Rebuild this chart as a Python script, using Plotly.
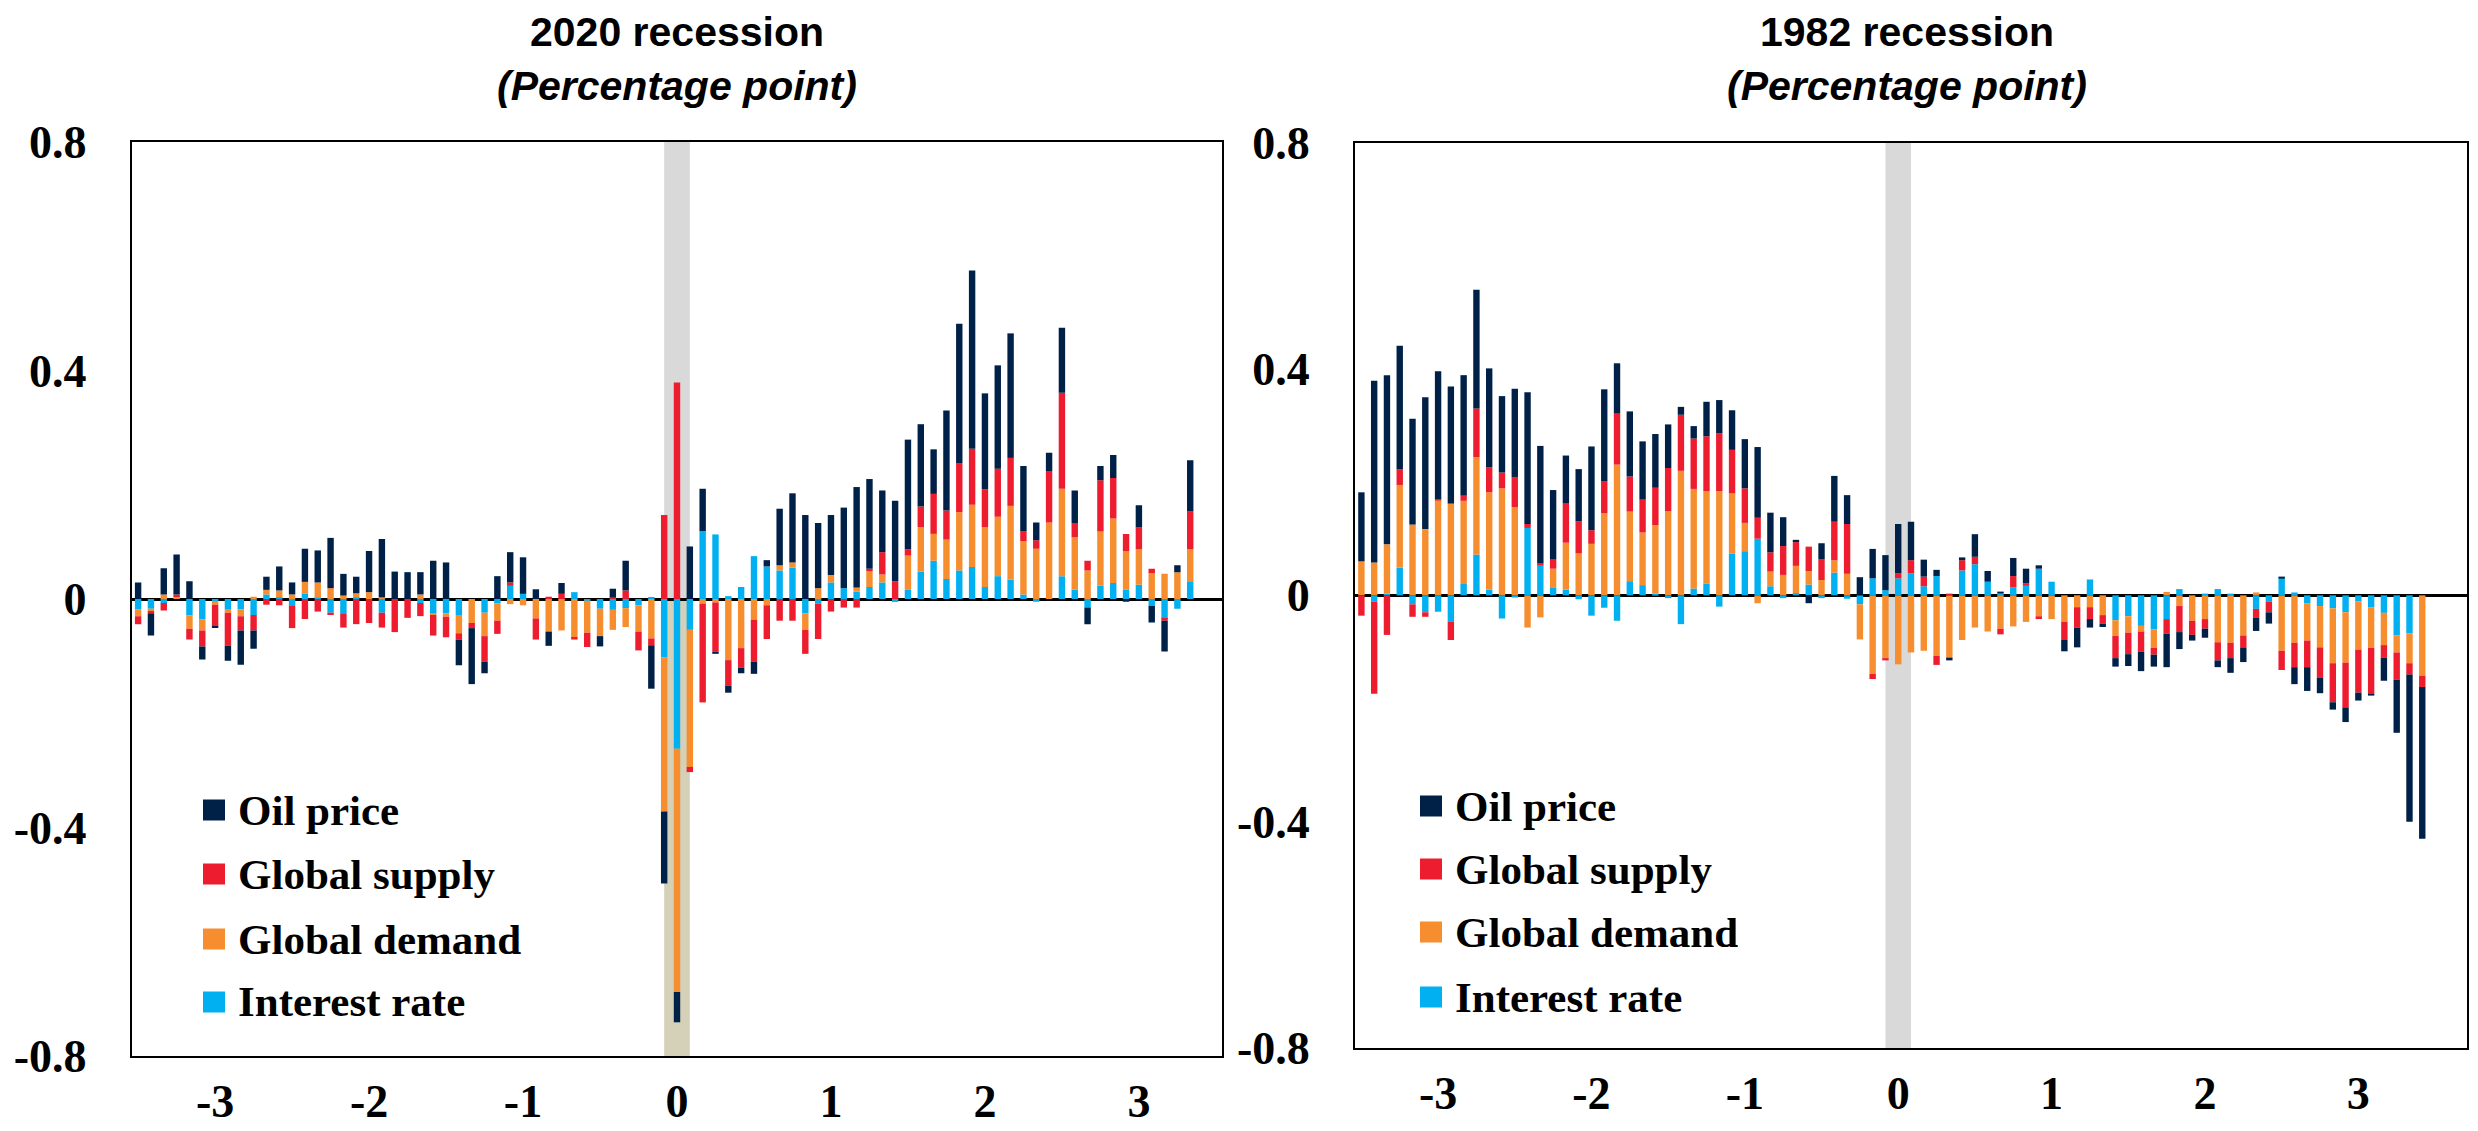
import plotly.graph_objects as go

# target picture size; the page body adds an 8 px margin before the figure
W, H = 2478, 1131
PAGE_MARGIN = 8
FW, FH = W - PAGE_MARGIN, H - PAGE_MARGIN

# months relative to the start of each recession
MONTHS_2020 = list(range(-42, 41))
MONTHS_1982 = list(range(-42, 42))

# 2020 recession contributions (percentage point)
IR_2020 = [-0.018, -0.017, -0.007, 0.0, -0.029, -0.036, -0.005, -0.019, -0.018, -0.028,
           0.008, 0.003, -0.011, 0.009, 0.002, -0.024, -0.025, 0.003, 0.0, -0.024,
           0.0, 0.0, -0.007, -0.025, -0.025, -0.028, 0.0, -0.024, -0.008, 0.023,
           0.009, 0.0, 0.0, 0.0, 0.012, -0.003, -0.017, -0.019, -0.016, -0.011,
           0.003, -0.102, -0.262, -0.054, 0.119, 0.113, 0.005, 0.021, 0.075, 0.057,
           0.050, 0.055, -0.025, -0.008, 0.029, 0.019, 0.013, 0.021, 0.029, -0.005,
           0.016, 0.048, 0.067, 0.035, 0.050, 0.056, 0.021, 0.040, 0.034, 0.008,
           -0.005, 0.0, 0.040, 0.016, -0.015, 0.023, 0.028, 0.016, 0.025, -0.012,
           -0.035, -0.017, 0.031]
GD_2020 = [-0.012, -0.004, 0.008, 0.005, -0.023, -0.019, -0.005, -0.005, -0.012, 0.004,
           0.008, 0.012, 0.008, 0.021, 0.027, 0.019, 0.006, 0.007, 0.012, 0.003,
           0.0, 0.0, 0.008, -0.003, -0.006, -0.032, -0.042, -0.041, -0.030, -0.009,
           -0.011, -0.034, -0.057, -0.055, -0.068, -0.056, -0.048, -0.035, -0.033, -0.046,
           -0.069, -0.270, -0.426, -0.240, -0.008, -0.006, -0.107, -0.086, -0.036, -0.011,
           0.009, 0.009, -0.029, 0.019, 0.013, 0.0, 0.007, 0.029, 0.014, 0.0,
           0.060, 0.078, 0.047, 0.069, 0.102, 0.109, 0.105, 0.104, 0.129, 0.093,
           0.088, 0.134, 0.153, 0.092, 0.050, 0.095, 0.113, 0.068, 0.062, 0.045,
           0.044, 0.047, 0.056]
GS_2020 = [-0.014, -0.004, -0.013, 0.003, -0.019, -0.028, -0.038, -0.058, -0.025, -0.027,
           -0.010, -0.011, -0.040, -0.035, -0.022, -0.004, -0.025, -0.044, -0.042, -0.026,
           -0.058, -0.033, -0.023, -0.036, -0.036, -0.011, -0.009, -0.045, -0.023, 0.006,
           0.0, -0.037, 0.004, 0.009, -0.003, -0.025, 0.0, 0.003, 0.015, -0.033,
           -0.012, 0.147, 0.379, -0.009, -0.173, -0.086, -0.045, -0.034, -0.074, -0.059,
           -0.038, -0.038, -0.042, -0.062, -0.022, -0.015, -0.015, 0.003, 0.039, 0.031,
           0.011, 0.036, 0.070, 0.051, 0.086, 0.098, 0.066, 0.084, 0.084, 0.017,
           0.015, 0.090, 0.168, 0.025, 0.017, 0.090, 0.071, 0.030, 0.038, 0.008,
           -0.003, 0.0, 0.066]
OIL_2020 = [0.029, -0.039, 0.046, 0.070, 0.031, -0.023, -0.002, -0.026, -0.060, -0.032,
            0.023, 0.042, 0.021, 0.058, 0.056, 0.088, 0.038, 0.029, 0.072, 0.102,
            0.048, 0.047, 0.039, 0.067, 0.064, -0.045, -0.098, -0.020, 0.040, 0.053,
            0.064, 0.017, -0.025, 0.019, 0.0, 0.0, -0.018, 0.015, 0.052, 0.0,
            -0.076, -0.126, -0.053, 0.092, 0.074, -0.004, -0.012, -0.010, -0.021, 0.011,
            0.099, 0.121, 0.147, 0.114, 0.105, 0.141, 0.176, 0.157, 0.108, 0.141,
            0.192, 0.144, 0.078, 0.175, 0.244, 0.312, 0.168, 0.181, 0.218, 0.115,
            0.031, 0.032, 0.114, 0.057, -0.029, 0.025, 0.040, -0.005, 0.039, -0.029,
            -0.054, 0.012, 0.090]

# 1982 recession contributions (percentage point)
IR_1982 = [0.0, -0.011, 0.003, 0.049, -0.016, -0.030, -0.029, -0.047, 0.020, 0.072,
           0.010, -0.041, -0.004, 0.119, 0.053, 0.013, 0.010, -0.007, -0.036, -0.022,
           -0.045, 0.025, 0.018, 0.003, -0.005, -0.051, 0.012, 0.021, -0.020, 0.074,
           0.078, 0.100, 0.016, -0.005, 0.004, 0.019, -0.005, 0.040, -0.006, -0.016,
           0.030, 0.009, 0.030, 0.039, 0.016, 0.034, 0.0, 0.044, 0.055, 0.024,
           0.003, 0.014, 0.018, 0.047, 0.024, 0.0, 0.0, 0.028, 0.0, -0.044,
           -0.037, -0.054, -0.060, -0.042, 0.011, 0.0, 0.003, 0.011, 0.003, 0.0,
           -0.024, -0.011, 0.031, 0.005, -0.014, -0.019, -0.023, -0.030, -0.011, -0.021,
           -0.031, -0.071, -0.067, 0.0]
GD_1982 = [0.060, 0.058, 0.087, 0.146, 0.125, 0.117, 0.168, 0.162, 0.147, 0.172,
           0.172, 0.189, 0.156, -0.057, -0.039, 0.034, 0.083, 0.074, 0.091, 0.145,
           0.231, 0.123, 0.093, 0.121, 0.149, 0.220, 0.176, 0.163, 0.184, 0.106,
           0.050, -0.014, 0.026, 0.036, 0.048, 0.024, 0.027, 0.022, 0.038, -0.062,
           -0.139, -0.111, -0.122, -0.101, -0.098, -0.107, -0.110, -0.079, -0.057, -0.064,
           -0.059, -0.055, -0.047, -0.037, -0.042, -0.047, -0.021, -0.021, -0.035, -0.028,
           -0.029, -0.010, -0.033, 0.006, -0.019, -0.045, -0.042, -0.083, -0.084, -0.071,
           0.005, 0.0, -0.098, -0.084, -0.066, -0.073, -0.097, -0.089, -0.085, -0.072,
           -0.057, -0.030, -0.053, -0.142]
GS_1982 = [-0.036, -0.163, -0.070, 0.028, -0.022, -0.008, 0.002, -0.032, 0.009, 0.086,
           0.044, 0.028, 0.053, 0.007, 0.003, 0.016, 0.069, 0.057, 0.024, 0.056,
           0.090, 0.062, 0.058, 0.066, 0.076, 0.099, 0.089, 0.097, 0.102, 0.077,
           0.061, 0.037, 0.034, 0.051, 0.042, 0.043, 0.037, 0.068, 0.088, 0.0,
           -0.009, -0.004, 0.009, 0.023, 0.017, -0.016, 0.002, 0.018, 0.013, 0.0,
           -0.010, 0.020, 0.003, -0.005, 0.0, -0.032, -0.036, -0.021, -0.015, -0.039,
           -0.038, -0.036, -0.012, -0.026, -0.046, -0.025, -0.017, -0.032, -0.027, -0.021,
           -0.016, -0.019, -0.034, -0.043, -0.047, -0.054, -0.069, -0.079, -0.076, -0.081,
           -0.022, -0.048, -0.020, -0.020]
OIL_1982 = [0.122, 0.321, 0.299, 0.218, 0.187, 0.233, 0.226, 0.207, 0.213, 0.210,
            0.175, 0.135, 0.156, 0.233, 0.208, 0.123, 0.085, 0.092, 0.148, 0.163,
            0.089, 0.115, 0.103, 0.095, 0.077, 0.014, 0.022, 0.061, 0.059, 0.070,
            0.087, 0.125, 0.070, 0.051, 0.004, -0.014, 0.028, 0.081, 0.051, 0.032,
            0.052, 0.062, 0.087, 0.068, 0.030, 0.011, -0.005, 0.005, 0.040, 0.019,
            0.003, 0.032, 0.026, 0.006, 0.0, -0.020, -0.035, -0.015, -0.006, -0.015,
            -0.021, -0.034, -0.021, -0.059, -0.030, -0.010, -0.016, -0.012, -0.026, -0.026,
            -0.023, -0.020, 0.002, -0.030, -0.042, -0.027, -0.013, -0.026, -0.014, -0.003,
            -0.041, -0.094, -0.260, -0.268]

SERIES = ["Oil price", "Global supply", "Global demand", "Interest rate"]
COLORS = {
    "Oil price": "#002147",
    "Global supply": "#ED1C2E",
    "Global demand": "#F68D2E",
    "Interest rate": "#00B0F0",
}
TICK_MONTHS = [-36, -24, -12, 0, 12, 24, 36]
TICK_TEXT = ["-3", "-2", "-1", "0", "1", "2", "3"]
Y_TICKS = [-0.8, -0.4, 0, 0.4, 0.8]
Y_TEXT = ["-0.8", "-0.4", "0", "0.4", "0.8"]
REC_BAND = (-1, 1)  # shaded recession months

SERIF = "Liberation Serif, Times New Roman, serif"
SANS = "Liberation Sans, Arial, sans-serif"


def px_x(x):
    # screen pixel -> paper fraction
    return (x - PAGE_MARGIN) / FW


def px_y(y):
    return 1 - (y - PAGE_MARGIN) / FH


fig = go.Figure()

panels = [
    ("x", "y", MONTHS_2020, {"Interest rate": IR_2020, "Global demand": GD_2020,
                             "Global supply": GS_2020, "Oil price": OIL_2020}),
    ("x2", "y2", MONTHS_1982, {"Interest rate": IR_1982, "Global demand": GD_1982,
                               "Global supply": GS_1982, "Oil price": OIL_1982}),
]
# stacking order from the zero line outwards
stack_order = ["Interest rate", "Global demand", "Global supply", "Oil price"]
for xa, ya, months, data in panels:
    for name in stack_order:
        fig.add_trace(go.Bar(
            x=months, y=data[name], name=name, xaxis=xa, yaxis=ya,
            marker=dict(color=COLORS[name], line=dict(width=0)),
            width=0.5, showlegend=False,
        ))

# plot areas in screen pixels (left, right, top, bottom)
AREAS = [(131.7, 1222.3, 142, 1056), (1355, 2467, 142.6, 1048)]
X_RANGES = [[-42.5, 42.5], [-42.5, 44.5]]

axis_common = dict(showline=True, linecolor="black", linewidth=2, mirror=True,
                   showgrid=False, ticks="", automargin=False)
for i, (l, r, t, b) in enumerate(AREAS):
    sfx = "" if i == 0 else str(i + 1)
    fig.layout["xaxis" + sfx] = dict(
        axis_common, domain=[px_x(l), px_x(r)], range=X_RANGES[i],
        anchor="y" + sfx, tickvals=TICK_MONTHS, ticktext=TICK_TEXT,
        tickfont=dict(family=SERIF, size=46, color="black", weight="bold"),
        ticklabelstandoff=4, zeroline=False,
    )
    fig.layout["yaxis" + sfx] = dict(
        axis_common, domain=[px_y(b), px_y(t)], range=[-0.8, 0.8],
        anchor="x" + sfx, tickvals=Y_TICKS, ticktext=Y_TEXT,
        tickfont=dict(family=SERIF, size=46, color="black", weight="bold"),
        ticklabelstandoff=34, zeroline=True, zerolinecolor="black",
        zerolinewidth=2.5, layer="above traces",
    )

# recession shading
fig.add_shape(type="rect", xref="x", yref="y", x0=REC_BAND[0], x1=REC_BAND[1],
              y0=0, y1=0.8, fillcolor="#D9D9D9", line_width=0, layer="below")
fig.add_shape(type="rect", xref="x", yref="y", x0=REC_BAND[0], x1=REC_BAND[1],
              y0=-0.8, y1=0, fillcolor="#D5D0B8", line_width=0, layer="below")
fig.add_shape(type="rect", xref="x2", yref="y2", x0=REC_BAND[0], x1=REC_BAND[1],
              y0=-0.8, y1=0.8, fillcolor="#D9D9D9", line_width=0, layer="below")

# titles
titles = [("2020 recession", 677), ("1982 recession", 1907)]
for text, cx in titles:
    fig.add_annotation(x=px_x(cx), y=px_y(32), xref="paper", yref="paper",
                       xanchor="center", yanchor="middle",
                       text=f"<b>{text}</b>", showarrow=False,
                       font=dict(family=SANS, size=41, color="black"))
    fig.add_annotation(x=px_x(cx), y=px_y(86), xref="paper", yref="paper",
                       xanchor="center", yanchor="middle",
                       text="<b><i>(Percentage point)</i></b>", showarrow=False,
                       font=dict(family=SANS, size=41, color="black"))

# legends drawn inside each panel
LEGEND_POS = [(203, [810, 874, 939, 1002]), (1420, [806, 869, 932, 997])]
for sq_left, rows in LEGEND_POS:
    for name, yc in zip(SERIES, rows):
        fig.add_shape(type="rect", xref="paper", yref="paper",
                      x0=px_x(sq_left), x1=px_x(sq_left + 22),
                      y0=px_y(yc + 10.5), y1=px_y(yc - 10.5),
                      fillcolor=COLORS[name], line_width=0)
        fig.add_annotation(x=px_x(sq_left + 33), y=px_y(yc), xref="paper", yref="paper",
                           text=name, showarrow=False, xanchor="left", yanchor="middle",
                           font=dict(family=SERIF, size=43, color="black", weight="bold"))

fig.update_layout(
    width=FW, height=FH, barmode="relative", bargap=0.5,
    margin=dict(l=0, r=0, t=0, b=0),
    paper_bgcolor="white", plot_bgcolor="white",
    showlegend=False,
)

fig.write_html("out.html")
